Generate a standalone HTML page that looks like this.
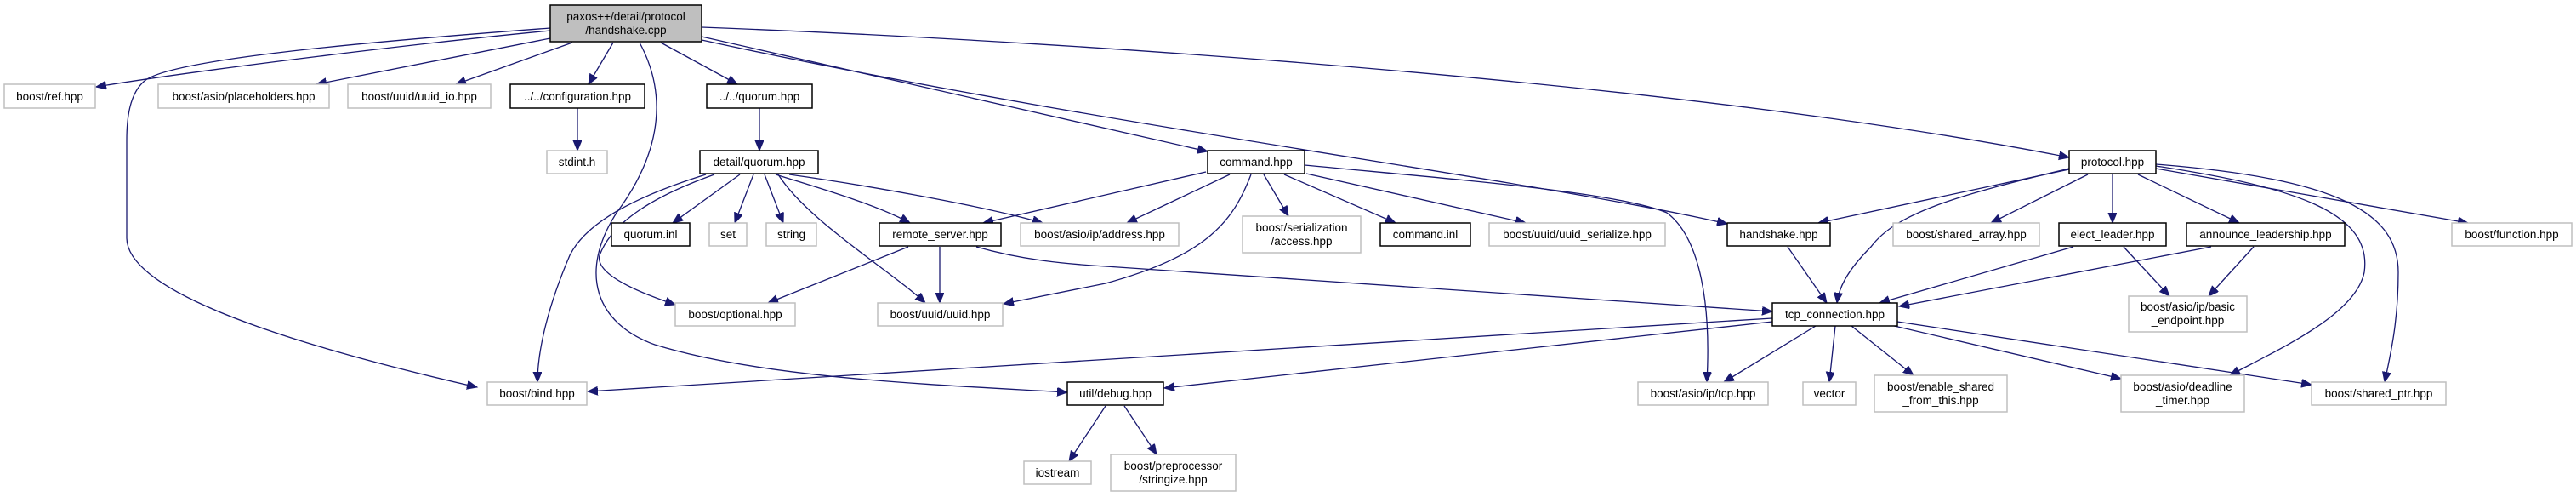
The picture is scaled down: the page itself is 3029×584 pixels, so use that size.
<!DOCTYPE html>
<html><head><meta charset="utf-8"><style>
html,body{margin:0;padding:0;background:#fff;}
svg{display:block;}
text{font-family:"Liberation Sans","DejaVu Sans",sans-serif;font-size:13.5px;fill:#000;text-anchor:middle;}
.g{fill:#fff;stroke:#bfbfbf;stroke-width:1.5;}
.b{fill:#fff;stroke:#000;stroke-width:1.5;}
.m{fill:#bfbfbf;stroke:#000;stroke-width:1.5;}
path{fill:none;stroke:#191970;stroke-width:1.3;}
</style></head><body>
<svg width="3029" height="584" viewBox="0 0 3029 584" xmlns="http://www.w3.org/2000/svg">
<defs><marker id="a" markerUnits="userSpaceOnUse" markerWidth="14" markerHeight="12" refX="12" refY="5" orient="auto"><path d="M0,0 L12,5 L0,10 Z" style="fill:#191970;stroke:#191970;stroke-width:1"/></marker></defs>
<g marker-end="url(#a)">
<path d="M647,36 C500,50 250,80 113,102"/>
<path d="M647,33 C420,50 200,70 170,95 C152,110 149,140 149,165 L149,280 C150,340 320,400 561,455"/>
<path d="M647,45 L372,99"/>
<path d="M673,50 L536,99"/>
<path d="M721,50 L692,99"/>
<path d="M777,50 L867,99"/>
<path d="M752,50 C790,120 770,190 725,250 C680,320 700,380 770,405 C900,445 1100,452 1255,461"/>
<path d="M825,43 L1420,178"/>
<path d="M825,47 C1300,150 1800,210 2031,263"/>
<path d="M825,32 C1300,50 2000,100 2433,185"/>
<path d="M679,127 L679,177"/>
<path d="M893,127 L893,177"/>
<path d="M870,205 L791,262"/>
<path d="M886,205 L864,262"/>
<path d="M899,205 L921,262"/>
<path d="M912,205 C960,220 1030,240 1070,262"/>
<path d="M928,205 C1000,215 1150,240 1226,262"/>
<path d="M915,205 C950,260 1050,320 1088,356"/>
<path d="M840,205 C770,230 720,260 705,300 C700,320 740,340 794,358"/>
<path d="M830,205 C750,230 690,260 670,300 C640,370 632,420 632,449"/>
<path d="M1068,290 L903,356"/>
<path d="M1105,290 L1105,356"/>
<path d="M1148,290 C1200,305 1250,310 1300,313 L2084,366"/>
<path d="M1418,202 L1156,262"/>
<path d="M1446,205 L1325,262"/>
<path d="M1471,205 C1450,260 1420,300 1300,333 L1180,357"/>
<path d="M1486,205 L1515,254"/>
<path d="M1510,205 L1641,262"/>
<path d="M1536,204 L1794,262"/>
<path d="M1534,194 C1700,210 1900,225 1960,250 C2000,280 2012,360 2007,449"/>
<path d="M2433,199 L2138,262"/>
<path d="M2433,198 C2300,230 2230,250 2200,290 C2170,320 2162,340 2160,356"/>
<path d="M2455,205 L2341,262"/>
<path d="M2484,205 L2484,262"/>
<path d="M2514,205 L2633,262"/>
<path d="M2535,198 L2902,262"/>
<path d="M2535,195 C2700,220 2790,250 2780,320 C2770,370 2680,410 2622,441"/>
<path d="M2535,193 C2750,210 2820,250 2820,320 C2820,380 2810,420 2804,449"/>
<path d="M2102,290 L2148,356"/>
<path d="M2438,290 L2210,356"/>
<path d="M2497,290 L2551,348"/>
<path d="M2600,290 L2233,360"/>
<path d="M2650,290 L2597,348"/>
<path d="M2084,374 L691,460"/>
<path d="M2084,378 L1369,456"/>
<path d="M2135,383 L2027,449"/>
<path d="M2158,383 L2151,449"/>
<path d="M2177,383 L2250,441"/>
<path d="M2223,382 L2494,445"/>
<path d="M2231,378 L2718,452"/>
<path d="M1300,477 L1257,542"/>
<path d="M1322,477 L1360,534"/>
</g>
<rect class="m" x="647" y="6" width="178" height="43"/><text x="736" y="24">paxos++/detail/protocol</text><text x="736" y="40">/handshake.cpp</text>
<rect class="g" x="5" y="99" width="107" height="28"/><text x="58.5" y="118">boost/ref.hpp</text>
<rect class="g" x="186" y="99" width="201" height="28"/><text x="286.5" y="118">boost/asio/placeholders.hpp</text>
<rect class="g" x="409" y="99" width="168" height="28"/><text x="493" y="118">boost/uuid/uuid_io.hpp</text>
<rect class="b" x="600" y="99" width="158" height="28"/><text x="679" y="118">../../configuration.hpp</text>
<rect class="b" x="831" y="99" width="124" height="28"/><text x="893" y="118">../../quorum.hpp</text>
<rect class="g" x="643" y="177" width="71" height="27"/><text x="678.5" y="195">stdint.h</text>
<rect class="b" x="823" y="177" width="139" height="27"/><text x="892.5" y="195">detail/quorum.hpp</text>
<rect class="b" x="1420" y="177" width="114" height="27"/><text x="1477" y="195">command.hpp</text>
<rect class="b" x="2433" y="177" width="102" height="27"/><text x="2484" y="195">protocol.hpp</text>
<rect class="b" x="719" y="262" width="92" height="27"/><text x="765" y="280">quorum.inl</text>
<rect class="g" x="834" y="262" width="44" height="27"/><text x="856" y="280">set</text>
<rect class="g" x="901" y="262" width="59" height="27"/><text x="930.5" y="280">string</text>
<rect class="b" x="1034" y="262" width="143" height="27"/><text x="1105.5" y="280">remote_server.hpp</text>
<rect class="g" x="1200" y="262" width="186" height="27"/><text x="1293" y="280">boost/asio/ip/address.hpp</text>
<rect class="g" x="1461" y="254" width="139" height="43"/><text x="1530.5" y="272">boost/serialization</text><text x="1530.5" y="288">/access.hpp</text>
<rect class="b" x="1623" y="262" width="106" height="27"/><text x="1676" y="280">command.inl</text>
<rect class="g" x="1751" y="262" width="207" height="27"/><text x="1854.5" y="280">boost/uuid/uuid_serialize.hpp</text>
<rect class="b" x="2031" y="262" width="121" height="27"/><text x="2091.5" y="280">handshake.hpp</text>
<rect class="g" x="2226" y="262" width="172" height="27"/><text x="2312" y="280">boost/shared_array.hpp</text>
<rect class="b" x="2421" y="262" width="126" height="27"/><text x="2484" y="280">elect_leader.hpp</text>
<rect class="b" x="2571" y="262" width="186" height="27"/><text x="2664" y="280">announce_leadership.hpp</text>
<rect class="g" x="2883" y="262" width="141" height="27"/><text x="2953.5" y="280">boost/function.hpp</text>
<rect class="g" x="794" y="356" width="141" height="27"/><text x="864.5" y="374">boost/optional.hpp</text>
<rect class="g" x="1032" y="356" width="147" height="27"/><text x="1105.5" y="374">boost/uuid/uuid.hpp</text>
<rect class="b" x="2084" y="356" width="147" height="27"/><text x="2157.5" y="374">tcp_connection.hpp</text>
<rect class="g" x="2503" y="348" width="139" height="42"/><text x="2572.5" y="365">boost/asio/ip/basic</text><text x="2572.5" y="381">_endpoint.hpp</text>
<rect class="g" x="573" y="449" width="117" height="27"/><text x="631.5" y="467">boost/bind.hpp</text>
<rect class="b" x="1255" y="449" width="113" height="27"/><text x="1311.5" y="467">util/debug.hpp</text>
<rect class="g" x="1926" y="449" width="153" height="27"/><text x="2002.5" y="467">boost/asio/ip/tcp.hpp</text>
<rect class="g" x="2120" y="449" width="62" height="27"/><text x="2151" y="467">vector</text>
<rect class="g" x="2204" y="441" width="156" height="43"/><text x="2282" y="459">boost/enable_shared</text><text x="2282" y="475">_from_this.hpp</text>
<rect class="g" x="2494" y="441" width="145" height="43"/><text x="2566.5" y="459">boost/asio/deadline</text><text x="2566.5" y="475">_timer.hpp</text>
<rect class="g" x="2718" y="449" width="158" height="27"/><text x="2797" y="467">boost/shared_ptr.hpp</text>
<rect class="g" x="1204" y="542" width="79" height="27"/><text x="1243.5" y="560">iostream</text>
<rect class="g" x="1306" y="534" width="147" height="43"/><text x="1379.5" y="552">boost/preprocessor</text><text x="1379.5" y="568">/stringize.hpp</text>
</svg>
</body></html>
